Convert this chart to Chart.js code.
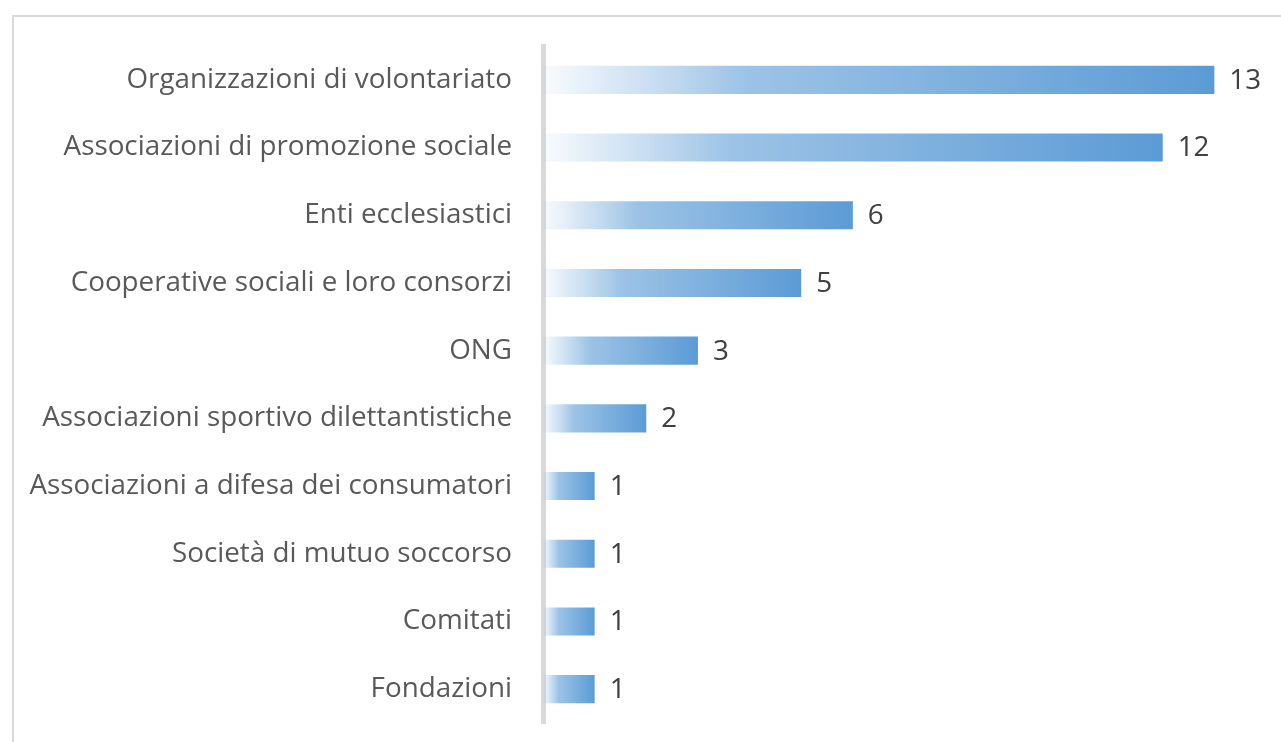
<!DOCTYPE html>
<html>
<head>
<meta charset="utf-8">
<script src="https://cdn.jsdelivr.net/npm/chart.js@4/dist/chart.umd.min.js"></script>
<style>
  html, body { margin: 0; padding: 0; background: #fff; }
  #wrap { position: relative; width: 1281px; height: 742px; overflow: hidden; }
  #frame { position: absolute; left: 12px; top: 15px; width: 1280px; height: 760px;
           border-left: 2px solid #d9d9d9; border-top: 2px solid #d9d9d9; }
  #chart { position: absolute; left: 0; top: 0; }
</style>
</head>
<body>
<div id="wrap">
  <div id="frame"></div>
  <canvas id="chart" width="1281" height="742"></canvas>
</div>
<script>
// categories and values
const categories = [
    'Organizzazioni di volontariato',
    'Associazioni di promozione sociale',
    'Enti ecclesiastici',
    'Cooperative sociali e loro consorzi',
    'ONG',
    'Associazioni sportivo dilettantistiche',
    'Associazioni a difesa dei consumatori',
    'Società di mutuo soccorso',
    'Comitati',
    'Fondazioni'
];
const counts = [13, 12, 6, 5, 3, 2, 1, 1, 1, 1];

const labelFont = { family: 'Open Sans', size: 27.8 };

// each bar gets its own gradient, white on the left to blue on the right
function barGradient(context) {
    const chart = context.chart;
    const xs = chart.scales && chart.scales.x;
    if (!xs || !chart.chartArea || context.raw == null) return '#5b9bd5';
    const x0 = xs.getPixelForValue(0);
    const x1 = xs.getPixelForValue(context.raw);
    if (!isFinite(x0) || !isFinite(x1) || x1 - x0 < 1) return '#5b9bd5';
    const g = chart.ctx.createLinearGradient(x0, 0, x1, 0);
    g.addColorStop(0, 'rgba(91,155,213,0.04)');
    g.addColorStop(0.2, 'rgba(91,155,213,0.4)');
    g.addColorStop(0.3, 'rgba(91,155,213,0.6)');
    g.addColorStop(1, 'rgba(91,155,213,1)');
    return g;
}

// value labels at the end of each bar
const valueLabels = {
    id: 'valueLabels',
    afterDatasetsDraw(chart) {
        const ctx = chart.ctx;
        const meta = chart.getDatasetMeta(0);
        ctx.save();
        ctx.font = labelFont.size + 'px ' + labelFont.family;
        ctx.fillStyle = '#404040';
        ctx.textAlign = 'left';
        ctx.textBaseline = 'middle';
        meta.data.forEach((bar, i) => {
            ctx.fillText(String(counts[i]), bar.x + 15, bar.y + 1);
        });
        ctx.restore();
    }
};

const ctx = document.getElementById('chart').getContext('2d');
new Chart(ctx, {
    type: 'bar',
    data: {
        labels: categories,
        datasets: [{
            data: counts,
            backgroundColor: barGradient,
            borderWidth: 0,
            categoryPercentage: 1,
            barPercentage: 0.415
        }]
    },
    options: {
        indexAxis: 'y',
        responsive: false,
        animation: false,
        layout: { padding: { top: 46, bottom: 19, left: 0, right: 15 } },
        scales: {
            x: {
                display: false,
                min: 0,
                max: 14
            },
            y: {
                afterFit(scale) {
                    scale.width = 543;
                    scale.paddingTop = 0;
                    scale.paddingBottom = 0;
                },
                grid: { display: false, drawTicks: false },
                border: { display: true, color: '#d9d9d9', width: 5 },
                ticks: {
                    color: '#595959',
                    font: labelFont,
                    padding: 31
                }
            }
        },
        plugins: {
            legend: { display: false },
            tooltip: { enabled: false }
        }
    },
    plugins: [valueLabels]
});
</script>
</body>
</html>
